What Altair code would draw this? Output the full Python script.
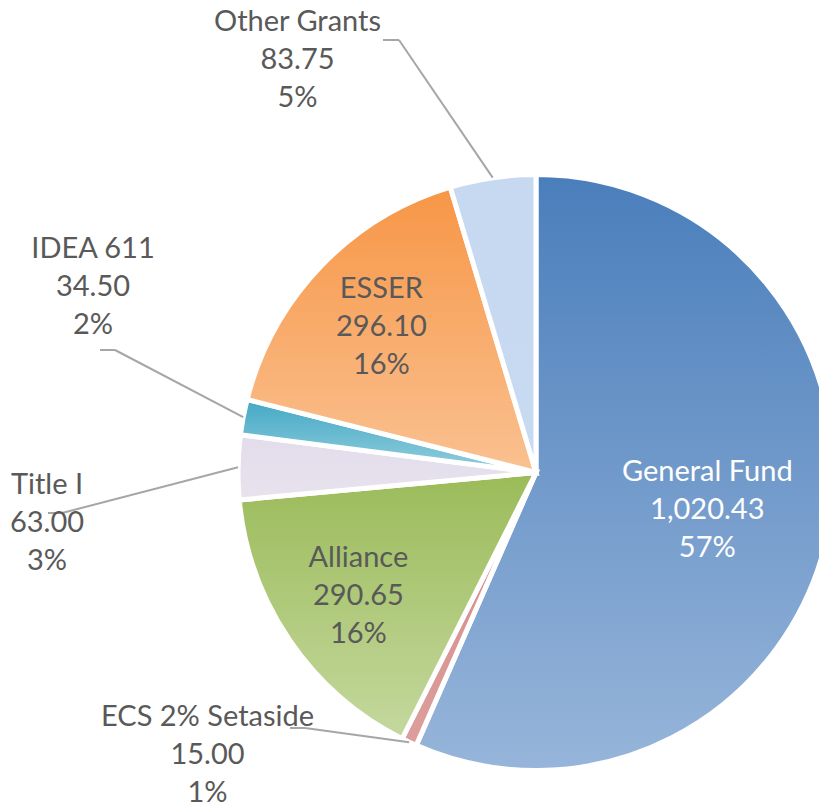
import altair as alt
import pandas as pd

# ---- data ----
categories = ["General Fund", "ECS 2% Setaside", "Alliance", "Title I", "IDEA 611", "ESSER", "Other Grants"]
values = [1020.43, 15.00, 290.65, 63.00, 34.50, 296.10, 83.75]

# ---- layout / style ----
W, H = 811, 796
CX, CY = 528, 464.5        # pie centre (plot coords)
R = 298
GRADIENTS = {
    "General Fund": ("#4a7ebb", "#97b5da"),
    "ECS 2% Setaside": ("#d38987", "#dc9e9c"),
    "Alliance": ("#9bbb59", "#c4d89e"),
    "Title I": ("#e3ddeb", "#e7e2ee"),
    "IDEA 611": ("#43a9c5", "#93cedd"),
    "ESSER": ("#f79646", "#fac191"),
    "Other Grants": ("#c6d9f1", "#c8daf1"),
}
INSIDE_R = {"General Fund": 175, "Alliance": 215, "ESSER": 214}
OUTSIDE = {  # label offset (dx, dy) of middle line, leader: (hx, kx, ky) relative to centre
    "Other Grants": ((-238.5, -414.5), (-153, -137, -432.5)),
    "IDEA 611": ((-443, -187.5), (-436, -421, -122.5)),
    "Title I": ((-489, 48.5), (-488, -474, 40.5)),
    "ECS 2% Setaside": ((-328.5, 280), (-246, -231, 255.5)),
}
FONT = "Lato"
FS = 29
LH = 38
TEXT_COL = "#595959"

rows = []
for i, (c, v) in enumerate(zip(categories, values)):
    r = {"category": c, "value": v, "order": i, "lr": INSIDE_R.get(c, 0)}
    if c in OUTSIDE:
        (dx, dy), (hx, kx, ky) = OUTSIDE[c]
        r.update({"ox": CX + dx, "oy": CY + dy, "hx": CX + hx, "kx": CX + kx, "ky": CY + ky})
    else:
        r.update({"ox": 0, "oy": 0, "hx": 0, "kx": 0, "ky": 0})
    rows.append(r)
df = pd.DataFrame(rows)

base = (
    alt.Chart(df)
    .transform_joinaggregate(total="sum(value)")
    .transform_window(cum="sum(value)", sort=[alt.SortField("order")], frame=[None, 0])
    .transform_calculate(
        start="2*PI*(datum.cum - datum.value)/datum.total",
        end="2*PI*datum.cum/datum.total",
    )
    .transform_calculate(
        mid="(datum.start + datum.end)/2",
        label="datum.category + '\\n' + format(datum.value, ',.2f') + '\\n' + format(datum.value/datum.total, '.0%')",
    )
    .transform_calculate(
        ix=f"{CX} + datum.lr*sin(datum.mid)",
        iy=f"{CY} - datum.lr*cos(datum.mid)",
        rx=f"{CX} + {R}*sin(datum.mid)",
        ry=f"{CY} - {R}*cos(datum.mid)",
    )
)

layers = []
for c in categories:
    top, bot = GRADIENTS[c]
    grad = alt.LinearGradient(
        gradient="linear",
        stops=[alt.GradientStop(color=top, offset=0), alt.GradientStop(color=bot, offset=1)],
        x1=0, x2=0, y1=0, y2=1,
    )
    layers.append(
        base.transform_filter(alt.datum.category == c)
        .mark_arc(color=grad, stroke="white", strokeWidth=5, radius=R)
        .encode(
            theta=alt.Theta("start:Q", scale=None, stack=None),
            theta2=alt.Theta2("end:Q"),
            x=alt.value(CX),
            y=alt.value(CY),
        )
    )

outside_names = list(OUTSIDE.keys())
inside_names = list(INSIDE_R.keys())

leader_h = (
    base.transform_filter(alt.FieldOneOfPredicate(field="category", oneOf=outside_names))
    .mark_rule(color="#a6a6a6", strokeWidth=2)
    .encode(x=alt.X("hx:Q", scale=None), x2="kx:Q", y=alt.Y("ky:Q", scale=None), y2="ky:Q")
)
leader_d = (
    base.transform_filter(alt.FieldOneOfPredicate(field="category", oneOf=outside_names))
    .mark_rule(color="#a6a6a6", strokeWidth=2)
    .encode(x=alt.X("kx:Q", scale=None), x2="rx:Q", y=alt.Y("ky:Q", scale=None), y2="ry:Q")
)

inside_text = (
    base.transform_filter(alt.FieldOneOfPredicate(field="category", oneOf=inside_names))
    .mark_text(font=FONT, fontSize=FS, lineHeight=LH, lineBreak="\n", align="center",
               baseline="middle", dy=-LH + 2)
    .encode(
        x=alt.X("ix:Q", scale=None),
        y=alt.Y("iy:Q", scale=None),
        text="label:N",
        color=alt.condition("datum.category == 'General Fund'", alt.value("white"), alt.value(TEXT_COL)),
    )
)
outside_text = (
    base.transform_filter(alt.FieldOneOfPredicate(field="category", oneOf=outside_names))
    .mark_text(font=FONT, fontSize=FS, lineHeight=LH, lineBreak="\n", align="center",
               baseline="middle", dy=-LH + 2, color=TEXT_COL)
    .encode(x=alt.X("ox:Q", scale=None), y=alt.Y("oy:Q", scale=None), text="label:N")
)

chart = (
    alt.layer(*layers, leader_h, leader_d, inside_text, outside_text)
    .properties(width=W, height=H, padding=0, autosize=alt.AutoSizeParams(type="none"))
    .configure_view(stroke=None)
)

chart.save("out.html", embed_options={"renderer": "svg", "actions": False})
